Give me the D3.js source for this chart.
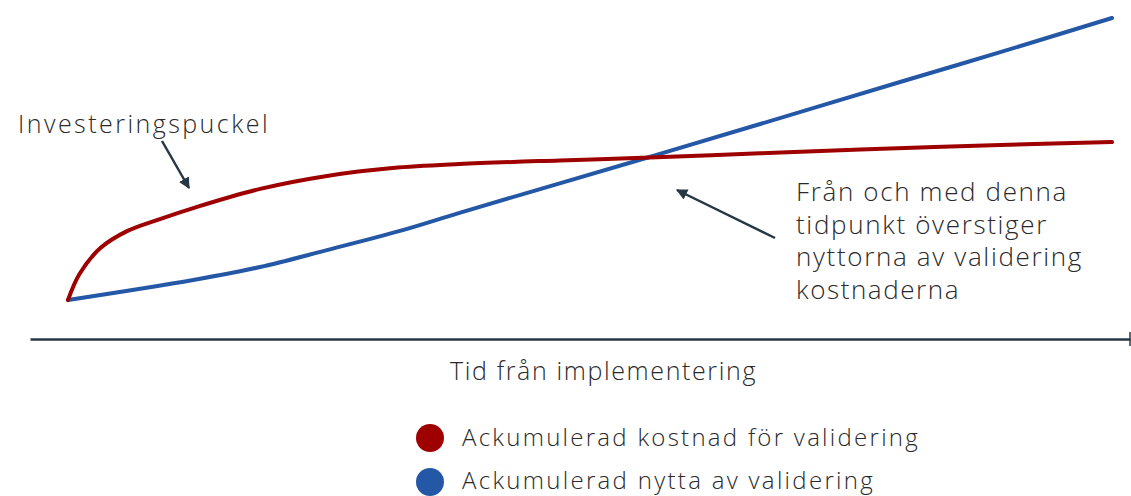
<!DOCTYPE html>
<html><head><meta charset="utf-8">
<script src="https://cdn.jsdelivr.net/npm/d3@7"></script>
<style>
body{margin:0;background:#fff;}
svg{display:block;}
text{font-family:"Open Sans",Lato,sans-serif;font-weight:300;fill:#2a2a2a;}
</style></head><body>
<svg id="c" width="1131" height="496"></svg>
<script>
// Data (arbitrary units: time 0..100, value 0..100)
const costT = [0,1.1,3.1,5.7,8.8,12,18.4,24.8,31.1,37.5,47.1,55.7,66.3,75.9,89.3,100];
const costV = [0,9.2,18.4,24.5,28.7,32.6,39.4,44.0,46.8,48.2,49.5,50.5,52.0,53.4,55.0,56.0];
const benefitT = [0,12,18.4,24.8,31.8,37.5,46.2,55.7,66.3,79.7,89.3,100];
const benefitV = [0,7.1,11.7,17.7,24.5,30.9,40.4,50.7,62.4,77.3,87.9,100];
const seriesNames = ["Ackumulerad kostnad för validering","Ackumulerad nytta av validering"];
const seriesColors = ["#9e0000","#2458a6"];
const axisLabel = "Tid från implementering";
const annotation1 = ["Investeringspuckel"];
const annotation2 = ["Från och med denna","tidpunkt överstiger","nyttorna av validering","kostnaderna"];

const svg = d3.select("#c");
const x = d3.scaleLinear().domain([0,100]).range([68,1112]);
const y = d3.scaleLinear().domain([0,100]).range([300,18]);

// stretch text horizontally with letter-spacing to a target width
function fit(sel, w){
  sel.each(function(){
    const n = this.getNumberOfChars();
    const nat = this.getComputedTextLength();
    d3.select(this).attr("letter-spacing", ((w-nat)/n).toFixed(3));
  });
}

const ink = "#263844";
svg.append("defs").append("marker")
  .attr("id","ah").attr("viewBox","0 0 10 10").attr("refX",9).attr("refY",5)
  .attr("markerWidth",4.5).attr("markerHeight",4.5).attr("orient","auto-start-reverse")
  .attr("markerUnits","strokeWidth")
  .append("path").attr("d","M0,0 L10,5 L0,10 Z").attr("fill",ink);

// x axis (no ticks)
const xAxisScale = d3.scaleLinear().domain([0,1]).range([30,1130]);
const ax = svg.append("g").attr("transform","translate(0,339)")
  .call(d3.axisBottom(xAxisScale).tickValues([]).tickSizeOuter(0));
ax.select(".domain").attr("stroke",ink).attr("stroke-width",2.5);
ax.append("line").attr("x1",1130).attr("x2",1130).attr("y1",-7).attr("y2",7).attr("stroke",ink).attr("stroke-width",1.5);

svg.append("text").attr("x",450).attr("y",380)
  .attr("font-size",25).text(axisLabel).call(fit,307);

const line = d3.line().x(d=>x(d[0])).y(d=>y(d[1])).curve(d3.curveCatmullRom.alpha(0.5));
const cost = costT.map((t,i)=>[t,costV[i]]);
const benefit = benefitT.map((t,i)=>[t,benefitV[i]]);
[[benefit,1],[cost,0]].forEach(([d,i])=>{
  svg.append("path").datum(d).attr("d",line).attr("fill","none")
    .attr("stroke",seriesColors[i]).attr("stroke-width",4).attr("stroke-linecap","round");
});

// annotations
svg.append("text").attr("x",18).attr("y",133).attr("font-size",25).text(annotation1[0]).call(fit,252);
svg.append("line").attr("x1",162).attr("y1",141).attr("x2",189).attr("y2",188)
  .attr("stroke",ink).attr("stroke-width",2.5).attr("marker-end","url(#ah)");
const a2w = [272,252,287,164];
annotation2.forEach((s,i)=>{
  svg.append("text").attr("x",796).attr("y",201+i*32.5).attr("font-size",26).text(s).call(fit,a2w[i]);
});
svg.append("line").attr("x1",775).attr("y1",238).attr("x2",677).attr("y2",190)
  .attr("stroke",ink).attr("stroke-width",2.5).attr("marker-end","url(#ah)");

// legend
const legW = [458,413];
seriesNames.forEach((n,i)=>{
  const cy = 438 + i*44;
  svg.append("circle").attr("cx",430).attr("cy",cy).attr("r",14).attr("fill",seriesColors[i]);
  svg.append("text").attr("x",462).attr("y",cy+8-i*1.5).attr("font-size",24).text(n).call(fit,legW[i]);
});
</script>
</body></html>
